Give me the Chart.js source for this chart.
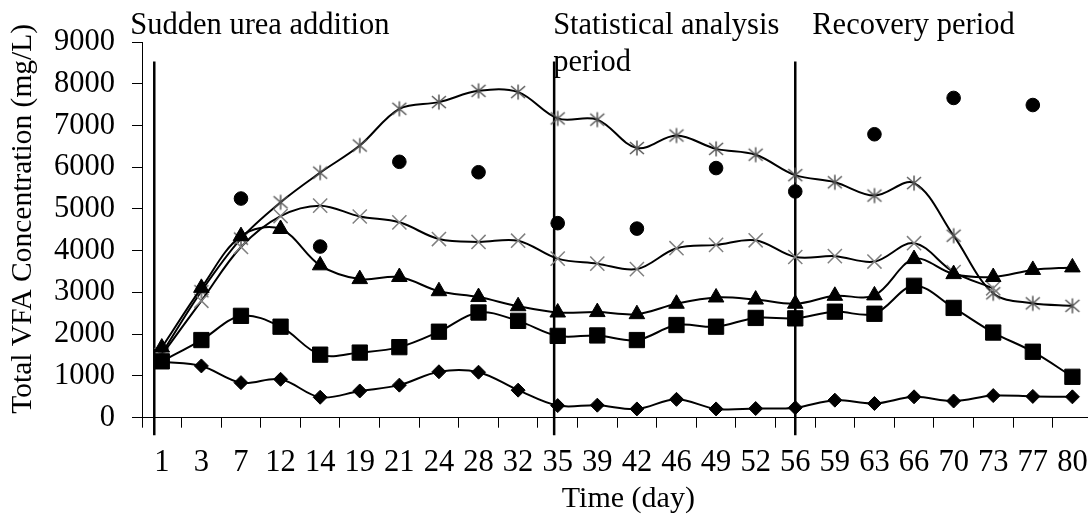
<!DOCTYPE html>
<html><head><meta charset="utf-8">
<script src="https://cdn.jsdelivr.net/npm/chart.js@4/dist/chart.umd.min.js"></script>
<style>
html,body{margin:0;padding:0;overflow:hidden;background:#fff;width:1088px;height:515px}
#wrap{width:1140px;height:515px;position:relative}
</style></head>
<body><div id="wrap"></div>
<script>
// ---- data ----
const days = ['1','3','7','12','14','19','21','24','28','32','35','39','42','46','49','52','56','59','63','66','70','73','77','80'];
const diamondSeries = [1340,1240,840,920,490,640,780,1100,1090,660,290,300,210,440,210,220,240,420,340,500,400,530,510,500];
const squareSeries = [1350,1860,2440,2180,1510,1560,1690,2060,2520,2320,1960,1970,1860,2220,2180,2390,2380,2540,2490,3160,2630,2040,1580,980];
const triangleSeries = [1680,3110,4350,4520,3650,3320,3370,3030,2890,2670,2520,2530,2480,2730,2880,2830,2730,2920,2930,3800,3440,3370,3540,3600];
const crossSeries = [1500,2800,4090,4830,5080,4820,4680,4280,4210,4240,3810,3690,3560,4060,4140,4250,3850,3870,3740,4180,3490,3100,null,null];
const starSeries = [1540,3030,4290,5160,5870,6520,7400,7560,7830,7800,7170,7140,6460,6760,6440,6300,5810,5640,5320,5620,4360,2980,2740,2680];
const circleSeries = [null,null,5250,null,4100,null,6130,null,5880,null,4660,null,4530,null,5980,null,5420,null,6790,null,7660,null,7490,null];
const yTicks = [0,1000,2000,3000,4000,5000,6000,7000,8000,9000];
const periodLabels = [['Sudden urea addition'], ['Statistical analysis','period'], ['Recovery period']];
const periodLinePos = [-0.19, 9.91, 16];   // category positions of the period lines
const periodLineTop = 8530, periodLineBottom = -420;

const FONT = "'Liberation Serif', 'Times New Roman', serif";
const AREA_RIGHT = 1092.5;

// asterisk marker
function makeStar() {
  const c = document.createElement('canvas');
  c.width = 20; c.height = 20;
  const g = c.getContext('2d');
  g.strokeStyle = '#555'; g.lineWidth = 1.5;
  g.beginPath();
  g.moveTo(3,4); g.lineTo(17,16);
  g.moveTo(17,4); g.lineTo(3,16);
  g.moveTo(10,2.5); g.lineTo(10,17.5);
  g.stroke();
  return c;
}
const starImg = makeStar();

const periodPlugin = {
  id: 'periods',
  beforeDatasetsDraw(chart) {
    const {ctx, scales: {x, y}} = chart;
    ctx.save();
    ctx.strokeStyle = '#000';
    ctx.lineWidth = 2.5;
    periodLinePos.forEach(p => {
      const px = x.getPixelForValue(p);
      ctx.beginPath();
      ctx.moveTo(px, y.getPixelForValue(periodLineTop));
      ctx.lineTo(px, y.getPixelForValue(periodLineBottom));
      ctx.stroke();
    });
    ctx.restore();
  },
  afterDraw(chart) {
    const {ctx, scales: {x}} = chart;
    const dx = [-24, -1, 17];
    ctx.save();
    ctx.fillStyle = '#000';
    ctx.font = '30.5px ' + FONT;
    ctx.textAlign = 'left';
    ctx.textBaseline = 'alphabetic';
    periodLabels.forEach((lines, i) => {
      const px = x.getPixelForValue(periodLinePos[i]) + dx[i];
      lines.forEach((t, j) => ctx.fillText(t, px, 34 + j * 37));
    });
    ctx.restore();
  }
};

const lineCommon = {
  borderColor: '#000', borderWidth: 2, tension: 0.35, fill: false,
  pointBackgroundColor: '#000', pointBorderColor: '#000', pointBorderWidth: 1
};

function build(width) {
  const wrap = document.getElementById('wrap');
  wrap.innerHTML = '';
  const cv = document.createElement('canvas');
  cv.width = width; cv.height = 515;
  wrap.appendChild(cv);
  return new Chart(cv, {
    type: 'line',
    data: {
      labels: days,
      datasets: [
        {...lineCommon, label: 'A', data: diamondSeries, pointStyle: 'rectRot', pointRadius: 7},
        {...lineCommon, label: 'B', data: squareSeries, pointStyle: 'rect', pointRadius: 10.8},
        {...lineCommon, label: 'C', data: triangleSeries, pointStyle: 'triangle', pointRadius: 9},
        {...lineCommon, label: 'D', data: crossSeries, pointStyle: 'crossRot', pointRadius: 10,
          pointBorderColor: '#808080', pointBorderWidth: 1.5},
        {...lineCommon, label: 'E', data: starSeries, pointStyle: starImg, pointRadius: 10},
        {label: 'F', data: circleSeries, showLine: false, pointStyle: 'circle', pointRadius: 6.8,
          pointBackgroundColor: '#000', pointBorderColor: '#000', borderColor: '#000'}
      ]
    },
    options: {
      responsive: false,
      animation: false,
      devicePixelRatio: 1,
      layout: {padding: {top: 42, right: 0, bottom: 0, left: 0}},
      plugins: {legend: {display: false}, tooltip: {enabled: false}},
      scales: {
        x: {
          type: 'category',
          offset: true,
          grid: {offset: true, drawOnChartArea: false, drawTicks: true, tickLength: 10, color: '#000', lineWidth: 1},
          border: {display: true, color: '#000', width: 1},
          ticks: {autoSkip: false, maxRotation: 0, minRotation: 0, color: '#000', padding: 17,
            font: {family: FONT, size: 30.5}},
          title: {display: true, text: '   Time (day)', color: '#000', padding: {top: 0, bottom: 0},
            font: {family: FONT, size: 30, lineHeight: 1.05}},
          afterFit(s) { s.height = 97.3; s.paddingLeft = 0; s.paddingRight = 0; }
        },
        y: {
          min: 0, max: 9000,
          afterBuildTicks(s) { s.ticks = yTicks.map(v => ({value: v})); },
          grid: {drawOnChartArea: false, drawTicks: true, tickLength: 10, color: '#000', lineWidth: 1},
          border: {display: true, color: '#000', width: 1},
          ticks: {color: '#000', padding: 17, font: {family: FONT, size: 30.5},
            callback: v => String(v)},
          title: {display: true, text: '   Total VFA Concentration (mg/L)', color: '#000',
            padding: {top: 6, bottom: 0}, font: {family: FONT, size: 29.5}},
          afterFit(s) { s.width = 142; }
        }
      }
    },
    plugins: [periodPlugin]
  });
}

// the reference's plot area runs slightly past the window's right edge
let chart = build(1094);
const deficit = AREA_RIGHT - chart.chartArea.right;
if (Math.abs(deficit) > 0.3) {
  const w = Math.round(1094 + deficit);
  chart.destroy();
  chart = build(w);
}
</script>
</body></html>
